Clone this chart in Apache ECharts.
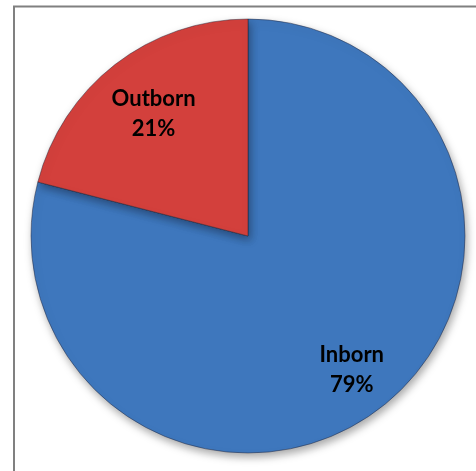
<!DOCTYPE html>
<html>
<head>
<meta charset="utf-8">
<script src="https://cdn.jsdelivr.net/npm/echarts@6/dist/echarts.min.js"></script>
<style>
html,body{margin:0;padding:0;background:#fff;}
#chart{width:476px;height:471px;}
</style>
</head>
<body>
<div id="chart"></div>
<script>
var categories = ['Inborn', 'Outborn'];
var values = [79, 21];
var colors = ['#3e77bd', '#d3403c'];

var chart = echarts.init(document.getElementById('chart'));
var data = categories.map(function (c, i) {
  return { name: c, value: values[i], itemStyle: { color: colors[i] } };
});

// label placement as fraction of radius along mid-angle
var labelFrac = [0.78, 0.71];
var cx = 248, cy = 236, R = 217;

chart.setOption({
  animation: false,
  graphic: [{
    type: 'polyline',
    shape: {points: [[14, 480], [14, 6.5], [480, 6.5]]},
    style: {stroke: '#808080', lineWidth: 2, fill: null}
  }],
  series: [{
    type: 'pie',
    center: [cx, cy],
    radius: R,
    startAngle: 90,
    clockwise: true,
    data: data,
    itemStyle: {
      borderColor: 'rgba(30,30,50,0.45)',
      borderWidth: 1,
      shadowBlur: 8,
      shadowOffsetX: 2,
      shadowOffsetY: 4,
      shadowColor: 'rgba(0,0,0,0.35)'
    },
    label: {
      show: true,
      position: 'inside',
      formatter: '{b}\n{d}%',
      color: '#000',
      fontFamily: 'Lato',
      fontWeight: 'bold',
      fontSize: 22,
      lineHeight: 30
    },
    labelLayout: function (params) {
      var i = params.dataIndex;
      var total = values.reduce(function (a, b) { return a + b; }, 0);
      var start = 0;
      for (var k = 0; k < i; k++) start += values[k];
      var mid = (start + values[i] / 2) / total * 2 * Math.PI;
      var ang = Math.PI / 2 - mid;
      var tx = cx + labelFrac[i] * R * Math.cos(ang);
      var ty = cy - labelFrac[i] * R * Math.sin(ang);
      var r = params.labelRect;
      return {dx: tx - (r.x + r.width / 2), dy: ty - (r.y + r.height / 2)};
    },
    labelLine: {show: false}
  }]
});
</script>
</body>
</html>
